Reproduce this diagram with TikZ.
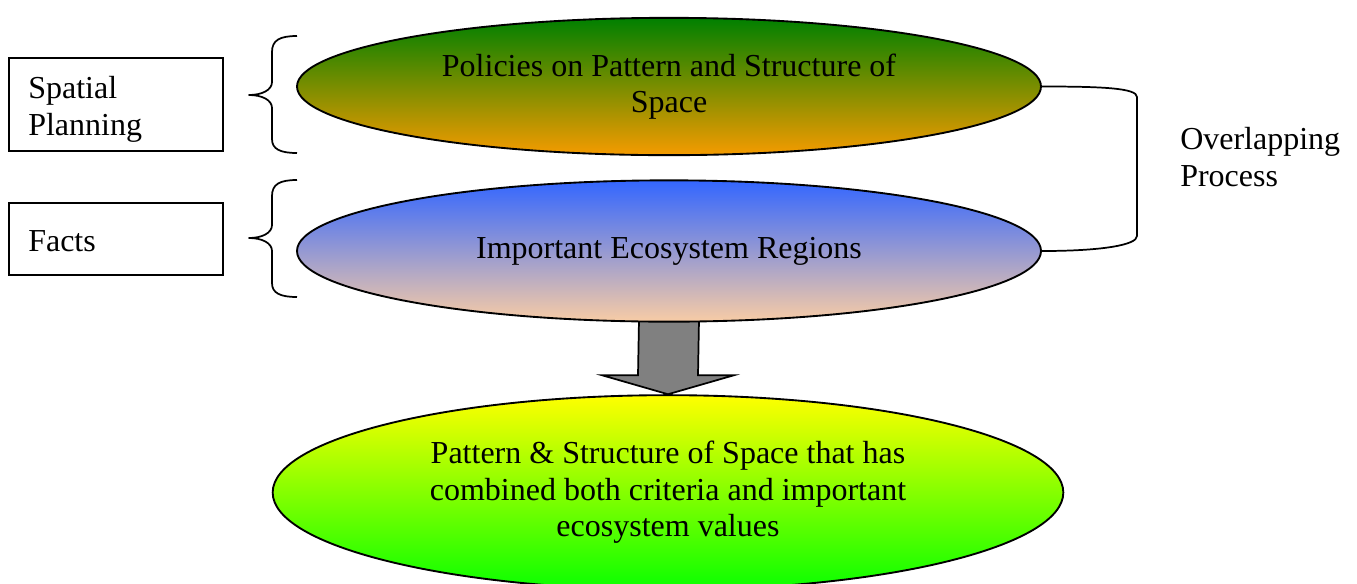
\documentclass[tikz,border=0pt]{standalone}
\usepackage{fontspec}
\setmainfont{Liberation Serif}
\usetikzlibrary{shapes.geometric,calc,backgrounds}
\definecolor{greentop}{RGB}{0,128,0}
\definecolor{orangebot}{RGB}{245,155,0}
\definecolor{bluetop}{RGB}{51,102,255}
\definecolor{peachbot}{RGB}{248,204,165}
\definecolor{yellowtop}{RGB}{255,255,0}
\definecolor{limebot}{RGB}{10,255,0}
\definecolor{arrowgray}{RGB}{128,128,128}
\begin{document}
\begin{tikzpicture}[x=0.75pt,y=-0.75pt,
  every node/.style={font=\fontsize{24pt}{27.5pt}\selectfont},
  labelbox/.style={draw, line width=1.3pt, rectangle, minimum width=161pt,
    text width=134pt, inner xsep=13.5pt, align=left},
  oval/.style={draw, line width=1.4pt, ellipse, inner sep=0pt, align=center},
  braceline/.style={line width=1.3pt, line join=round},
]
\useasboundingbox (0,0) rectangle (1357,583);

% the three ovals
\node[oval, top color=greentop, bottom color=orangebot,
      minimum width=558pt, minimum height=103pt] (policies) at (669,86.5)
  {Policies on Pattern and Structure of\\Space};
\node[oval, top color=bluetop, bottom color=peachbot,
      minimum width=558pt, minimum height=106pt] (regions) at (669,251)
  {Important Ecosystem Regions};
\node[oval, top color=yellowtop, bottom color=limebot,
      minimum width=593pt, minimum height=146pt] (result) at (668,492.5)
  {Pattern \& Structure of Space that has\\combined both criteria and important\\ecosystem values};

% side labels
\node[labelbox, minimum height=70pt] (spatial) at (116,104.5) {};
\node[anchor=west, align=left, inner sep=0pt] (spatialtext) at (28,109.5)
  {Spatial\\Planning};
\node[labelbox, minimum height=54pt] (facts) at (116,239) {};
\node[anchor=west, inner sep=0pt] (factstext) at (28,241) {Facts};
\node[anchor=west, align=left, inner sep=0pt] (overlap) at (1180,157)
  {Overlapping\\Process};

% curly braces
\draw[braceline] (297,36) .. controls (280,36) and (272,40) .. (272,52)
  -- (272,82) .. controls (272,90) and (262,95) .. (249,95)
  .. controls (262,95) and (272,100) .. (272,108)
  -- (272,139) .. controls (272,149) and (280,153) .. (297,153);
\draw[braceline] (297,180) .. controls (280,180) and (272,184) .. (272,196)
  -- (272,225) .. controls (272,233) and (262,238) .. (249,238)
  .. controls (262,238) and (272,243) .. (272,251)
  -- (272,283) .. controls (272,293) and (280,297) .. (297,297);

% bracket joining the two upper ovals
\draw[braceline] (policies.east) .. controls ($(policies.east)+(60,0)$) and (1137,88) .. (1137,97)
  -- (1137,236) .. controls (1137,245) and ($(regions.east)+(60,0)$) .. (regions.east);

% block arrow down to the result
\begin{scope}[on background layer]
\draw[fill=arrowgray, line width=1.3pt, line join=miter]
  ($(regions.south)+(-30,-3)$) -- ($(regions.south)+(30,-3)$)
  -- ($(result.north)+(30,-19)$) -- ($(result.north)+(66,-19)$)
  -- (result.north) -- ($(result.north)+(-66,-19)$)
  -- ($(result.north)+(-30,-19)$) -- cycle;
\end{scope}
\end{tikzpicture}
\end{document}
